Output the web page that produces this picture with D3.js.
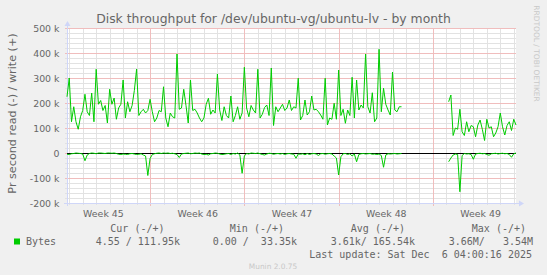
<!DOCTYPE html>
<html>
<head>
<meta charset="utf-8">
<script src="https://cdn.jsdelivr.net/npm/d3@7"></script>
<style>
  body { margin: 0; background: #F0F0F0; }
  svg { display: block; }
</style>
</head>
<body>
<div id="chart"></div>
<script>
// munin month graph, 4 hour samples, values in k (1000 bytes/s)
var start = new Date(2025, 10, 2, 20, 0, 0);
var end = new Date(2025, 11, 6, 4, 0, 0);
var stepHours = 4;

// write (+)
var writeK = [
  225, 300, 125, 185, 125, 95, 145, 170, 235, 165, 150, 240, 125, 335, 195, 210, 170, 190, 120, 255,
  195, 220, 135, 180, 195, 292, 140, 205, 165, 190, 250, 336, 150, 165, 175, 160, 170, 215, 165, 125,
  140, 170, 165, 265, 140, 105, 160, 145, 140, 396, 175, 180, 255, 190, 120, 292, 170, 175, 160, 140,
  125, 140, 195, 219, 155, 172, 160, 316, 172, 130, 185, 150, 140, 228, 125, 150, 185, 135, 160, 343,
  180, 145, 190, 172, 160, 335, 140, 155, 182, 192, 150, 340, 110, 185, 165, 180, 195, 170, 180, 212,
  170, 185, 180, 299, 132, 150, 212, 152, 165, 228, 172, 175, 165, 152, 135, 299, 112, 140, 135, 199,
  135, 332, 150, 175, 119, 172, 150, 303, 140, 292, 172, 192, 180, 396, 185, 160, 241, 125, 140, 415,
  165, 259, 195, 172, 152, 324, 172, 165, 185, 185,
  null, null, null, null, null, null, null, null, null, null,
  null, null, null, null, null, null, null, null, null, null,
  205, 232, 70, 100, 95, 175, 85, 70, 125, 85, 110, 105, 65, 112, 132, 95, 50, 135, 100, 105,
  65, 80, 105, 160, 105, 72, 110, 125, 90, 135, 112
];

// read (-)
var readK = [
  5, 6, 3, 2, 0, 1, 2, 4, 31, 8, 2, 0, 1, 3, 0, 0, 1, 2, 0, 0,
  1, 0, 2, 5, 6, 4, 5, 6, 3, 2, 4, 6, 5, 3, 8, 12, 90, 22, 6, 3,
  1, 0, 2, 0, 1, 0, 2, 1, 3, 6, 18, 4, 2, 1, 0, 3, 2, 0, 1, 0,
  4, 6, 5, 8, 3, 2, 0, 1, 4, 6, 5, 3, 2, 6, 2, 4, 0, 8, 81, 12,
  2, 4, 0, 1, 2, 0, 3, 6, 8, 4, 1, 2, 5, 3, 2, 4, 2, 6, 3, 2,
  4, 5, 21, 4, 5, 3, 7, 2, 6, 3, 2, 4, 10, 3, 2, 5, 3, 2, 4, 12,
  20, 88, 15, 3, 2, 6, 3, 12, 4, 35, 6, 3, 2, 4, 3, 2, 5, 4, 6, 4,
  10, 57, 8, 3, 4, 3, 2, 4, 3, 2,
  null, null, null, null, null, null, null, null, null, null,
  null, null, null, null, null, null, null, null, null, null,
  35, 20, 8, 4, 6, 155, 10, 2, 4, 3, 6, 25, 4, 2, 1, 3, 2, 6, 9, 3,
  2, 1, 4, 2, 1, 3, 2, 6, 17, 3, 0
];

var yTicks = [-200, -100, 0, 100, 200, 300, 400, 500];
var weekStarts = [new Date(2025, 10, 2), new Date(2025, 10, 9), new Date(2025, 10, 16),
                  new Date(2025, 10, 23), new Date(2025, 10, 30)];
var weekLabels = ["Week 45", "Week 46", "Week 47", "Week 48", "Week 49"];

var legendHeads = ["Cur (-/+)", "Min (-/+)", "Avg (-/+)", "Max (-/+)"];
var legendVals = ["4.55 / 111.95k", "0.00 /  33.35k", "3.61k/ 165.54k", "3.66M/   3.54M"];
var legendName = "Bytes";
var lastUpdate = "Last update: Sat Dec  6 04:00:16 2025";

var width = 547, height = 275;
var plotL = 67, plotR = 516, plotT = 28, plotB = 203;
var fontColor = "#666666";
var axisColor = "#CFD6F8";
var gridColor = "#E2E2E2";
var mgridColor = "#F0BDBD";

var svg = d3.select("#chart").append("svg")
    .attr("width", width)
    .attr("height", height);

svg.append("rect")
    .attr("width", width)
    .attr("height", height)
    .attr("fill", "#F0F0F0");

var x = d3.scaleTime().domain([start, end]).range([plotL, plotR]);
var y = d3.scaleLinear().domain([-200, 500]).range([plotB, plotT]);

// canvas
svg.append("rect")
    .attr("x", plotL).attr("y", plotT)
    .attr("width", plotR - plotL).attr("height", plotB - plotT)
    .attr("fill", "#FFFFFF");

var grid = svg.append("g").attr("shape-rendering", "crispEdges");

// minor horizontal grid every 20k
var minorY = d3.range(-200, 501, 20).filter(function (v) { return v % 100 != 0; });
grid.selectAll(".hmin").data(minorY).enter().append("line")
    .attr("x1", plotL - 2).attr("x2", plotR)
    .attr("y1", function (d) { return Math.round(y(d)) + 0.5; })
    .attr("y2", function (d) { return Math.round(y(d)) + 0.5; })
    .attr("stroke", gridColor);

// minor vertical grid: days (skip the week lines)
var days = d3.timeDay.range(d3.timeDay.ceil(start), end)
    .filter(function (d) { return d.getDay() != 0; });
grid.selectAll(".vmin").data(days).enter().append("line")
    .attr("x1", function (d) { return Math.round(x(d)) + 0.5; })
    .attr("x2", function (d) { return Math.round(x(d)) + 0.5; })
    .attr("y1", plotT).attr("y2", plotB + 2)
    .attr("stroke", gridColor);

// major horizontal grid
grid.selectAll(".hmaj").data(yTicks).enter().append("line")
    .attr("x1", plotL - 2).attr("x2", plotR)
    .attr("y1", function (d) { return Math.round(y(d)) + 0.5; })
    .attr("y2", function (d) { return Math.round(y(d)) + 0.5; })
    .attr("stroke", mgridColor);

// major vertical grid: weeks (sunday)
var weeks = d3.timeWeek.range(d3.timeWeek.ceil(start), end);
grid.selectAll(".vmaj").data(weeks).enter().append("line")
    .attr("x1", function (d) { return Math.round(x(d)) + 0.5; })
    .attr("x2", function (d) { return Math.round(x(d)) + 0.5; })
    .attr("y1", plotT).attr("y2", plotB + 3)
    .attr("stroke", mgridColor);

// axes
svg.append("line")
    .attr("x1", plotL - 3).attr("x2", plotR + 4)
    .attr("y1", plotB + 0.5).attr("y2", plotB + 0.5)
    .attr("stroke", axisColor);
svg.append("path")
    .attr("d", "M" + (plotR + 3) + "," + (plotB - 2.5) + "L" + (plotR + 8) + "," + (plotB + 0.5) + "L" + (plotR + 3) + "," + (plotB + 3.5) + "Z")
    .attr("fill", axisColor);
svg.append("line")
    .attr("x1", plotL + 0.5).attr("x2", plotL + 0.5)
    .attr("y1", plotB + 3).attr("y2", plotT - 3)
    .attr("stroke", axisColor);
svg.append("path")
    .attr("d", "M" + (plotL - 2.5) + "," + (plotT - 2) + "L" + (plotL + 0.5) + "," + (plotT - 7) + "L" + (plotL + 3.5) + "," + (plotT - 2) + "Z")
    .attr("fill", axisColor);

// y tick labels
var yAxis = d3.axisLeft(y)
    .tickValues(yTicks)
    .tickSize(0)
    .tickPadding(0)
    .tickFormat(function (d) { return d == 0 ? "0" : d + " k"; });
var gy = svg.append("g")
    .attr("transform", "translate(" + (plotL - 7.5) + ",0)")
    .call(yAxis);
gy.select(".domain").remove();
gy.selectAll("text")
    .attr("fill", fontColor)
    .style("font-family", "DejaVu Sans")
    .style("font-size", "9.4px");

// x tick labels, centred in each week
var xAxis = d3.axisBottom(x)
    .tickValues(weekStarts.map(function (d) { return d3.timeHour.offset(d, 84); }))
    .tickSize(0)
    .tickPadding(0)
    .tickFormat(function (d, i) { return weekLabels[i]; });
var gx = svg.append("g")
    .attr("transform", "translate(0," + (plotB + 7) + ")")
    .call(xAxis);
gx.select(".domain").remove();
gx.selectAll("text")
    .attr("fill", fontColor)
    .style("font-family", "DejaVu Sans")
    .style("font-size", "9.4px");

// zero rule
svg.append("line")
    .attr("x1", plotL).attr("x2", plotR)
    .attr("y1", y(0) + 0.5).attr("y2", y(0) + 0.5)
    .attr("stroke", "#000000")
    .attr("shape-rendering", "crispEdges");

// data lines
function timeAt(i) { return d3.timeHour.offset(start, i * stepHours); }

var writeLine = d3.line()
    .defined(function (d) { return d != null; })
    .x(function (d, i) { return x(timeAt(i)); })
    .y(function (d) { return y(d); });
var readLine = d3.line()
    .defined(function (d) { return d != null; })
    .x(function (d, i) { return x(timeAt(i)); })
    .y(function (d) { return y(-d); });

svg.append("path")
    .datum(readK)
    .attr("d", readLine)
    .attr("fill", "none")
    .attr("stroke", "#00CC00")
    .attr("stroke-width", 1);
svg.append("path")
    .datum(writeK)
    .attr("d", writeLine)
    .attr("fill", "none")
    .attr("stroke", "#00CC00")
    .attr("stroke-width", 1);

// title
svg.append("text")
    .attr("x", 273.5).attr("y", 23)
    .attr("text-anchor", "middle")
    .attr("fill", fontColor)
    .style("font-family", "DejaVu Sans")
    .style("font-size", "12.4px")
    .text("Disk throughput for /dev/ubuntu-vg/ubuntu-lv - by month");

// vertical label
svg.append("text")
    .attr("transform", "translate(15.5,113.5) rotate(-90)")
    .attr("text-anchor", "middle")
    .attr("fill", fontColor)
    .style("font-family", "DejaVu Sans")
    .style("font-size", "11.2px")
    .text("Pr second read (-) / write (+)");

// watermark
svg.append("text")
    .attr("transform", "translate(533.5,53.5) rotate(90)")
    .attr("text-anchor", "middle")
    .attr("fill", "#C8C8C8")
    .style("font-family", "DejaVu Sans")
    .style("font-size", "7.5px")
    .text("RRDTOOL / TOBI OETIKER");

// legend
var mono = "DejaVu Sans Mono";
var headEnds = [164.5, 284, 405, 526];
var valEnds = [180, 297, 415, 533];

svg.selectAll(".lhead").data(legendHeads).enter().append("text")
    .attr("x", function (d, i) { return headEnds[i]; })
    .attr("y", 232)
    .attr("text-anchor", "end")
    .attr("fill", fontColor)
    .style("font-family", mono)
    .style("font-size", "10px")
    .style("white-space", "pre")
    .text(function (d) { return d; });

svg.append("rect")
    .attr("x", 14).attr("y", 238.5)
    .attr("width", 6).attr("height", 6)
    .attr("fill", "#00CC00");
svg.append("text")
    .attr("x", 26).attr("y", 245)
    .attr("fill", fontColor)
    .style("font-family", mono)
    .style("font-size", "10px")
    .text(legendName);

svg.selectAll(".lval").data(legendVals).enter().append("text")
    .attr("x", function (d, i) { return valEnds[i]; })
    .attr("y", 245)
    .attr("text-anchor", "end")
    .attr("fill", fontColor)
    .style("font-family", mono)
    .style("font-size", "10px")
    .style("white-space", "pre")
    .text(function (d) { return d; });

svg.append("text")
    .attr("x", 532).attr("y", 257.5)
    .attr("text-anchor", "end")
    .attr("fill", fontColor)
    .style("font-family", mono)
    .style("font-size", "10px")
    .style("white-space", "pre")
    .text(lastUpdate);

svg.append("text")
    .attr("x", 273).attr("y", 269)
    .attr("text-anchor", "middle")
    .attr("fill", "#C8C8C8")
    .style("font-family", "DejaVu Sans")
    .style("font-size", "7.4px")
    .text("Munin 2.0.75");
</script>
</body>
</html>
